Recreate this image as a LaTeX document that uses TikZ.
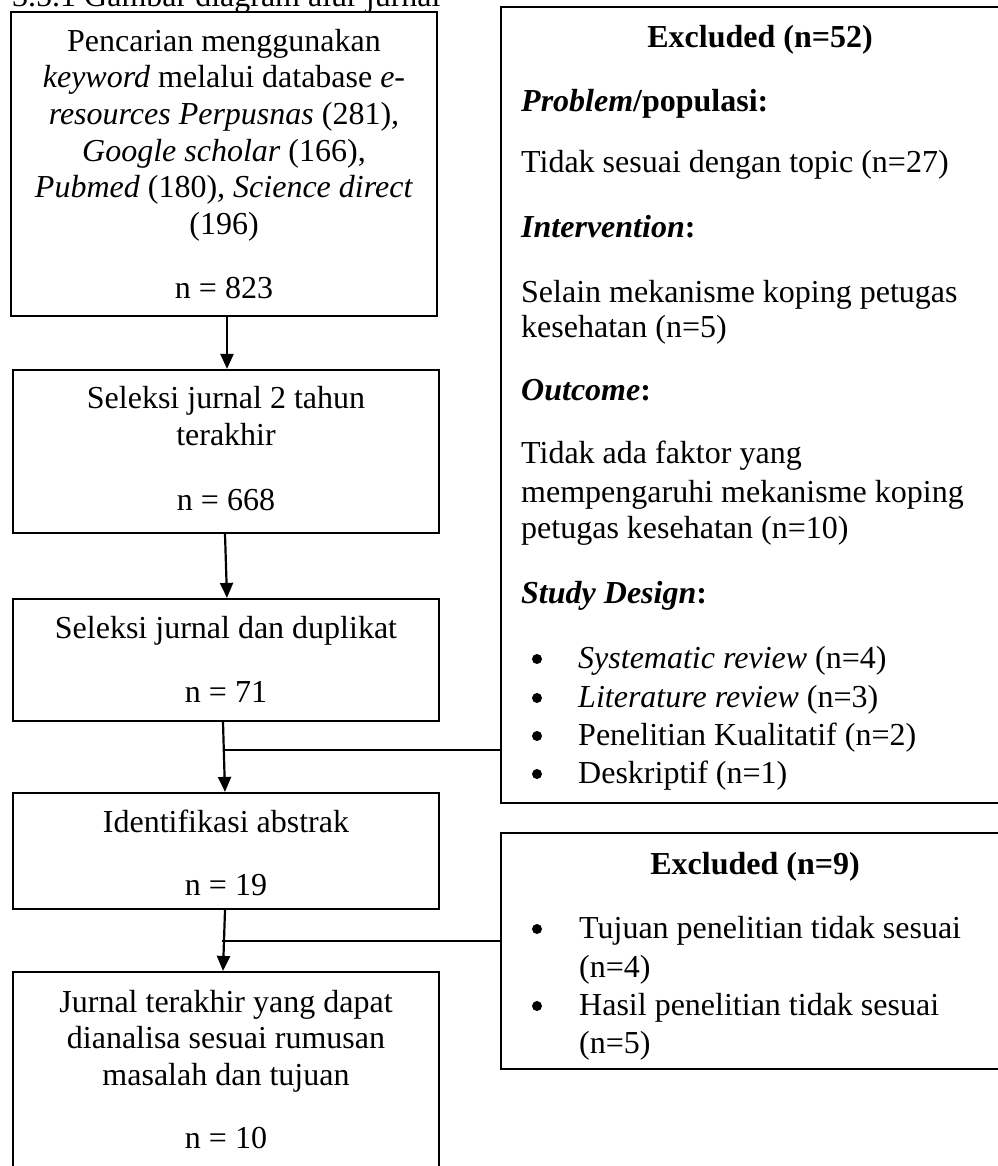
\documentclass[tikz,border=0pt]{standalone}
\usepackage{fontspec}
\setmainfont{Liberation Serif}
\usetikzlibrary{arrows.meta,calc}
\begin{document}
\begin{tikzpicture}[x=1pt,y=-1pt,
  box/.style={draw,line width=2.2pt,rectangle,inner sep=0pt},
  txt/.style={inner sep=0pt,font=\fontsize{32}{36.7}\selectfont},
  ctxt/.style={txt,anchor=base},
  ltxt/.style={txt,anchor=base west},
  bul/.style={circle,fill,inner sep=0pt,minimum size=10pt},
  flow/.style={line width=2.2pt,-{Triangle[length=15pt,width=13pt]}},
  link/.style={line width=2.2pt}]
\useasboundingbox (0,0) rectangle (997,1166);
\fill[white] (0,0) rectangle (997,1166);
% title (top cut off as in the reference)
\node[ltxt] (title) at (12,7) {3.5.1 Gambar diagram alur jurnal};
% left boxes
\node[box,minimum width=426pt,minimum height=304pt] (b1) at (224,164) {};
\node[box,minimum width=426pt,minimum height=163pt] (b2) at (226,451.5) {};
\node[box,minimum width=426pt,minimum height=122pt] (b3) at (226,660) {};
\node[box,minimum width=426pt,minimum height=116pt] (b4) at (226,851) {};
\node[box,minimum width=426pt,minimum height=228pt] (b5) at (226,1086) {};
% right boxes
\node[box,minimum width=518pt,minimum height=796pt] (ex1) at (760,405) {};
\node[box,minimum width=518pt,minimum height=236pt] (ex2) at (760,951) {};
% box 1 text
\node[ctxt] (t1a) at (224,52) {Pencarian menggunakan};
\node[ctxt] (t1b) at (224,88) {\textit{keyword} melalui database \textit{e-}};
\node[ctxt] (t1c) at (224,125) {\textit{resources Perpusnas} (281)\textit{,}};
\node[ctxt] (t1d) at (224,162) {\textit{Google scholar} (166),};
\node[ctxt] (t1e) at (224,198) {\textit{Pubmed} (180)\textit{, Science direct}};
\node[ctxt] (t1f) at (224,235) {(196)};
\node[ctxt] (t1n) at (224,298) {n = 823};
% box 2 text
\node[ctxt] (t2a) at (226,408) {Seleksi jurnal 2 tahun};
\node[ctxt] (t2b) at (226,445) {terakhir};
\node[ctxt] (t2n) at (226,510) {n = 668};
% box 3 text
\node[ctxt] (t3a) at (226,638) {Seleksi jurnal dan duplikat};
\node[ctxt] (t3n) at (226,702) {n = 71};
% box 4 text
\node[ctxt] (t4a) at (226,832) {Identifikasi abstrak};
\node[ctxt] (t4n) at (226,895) {n = 19};
% box 5 text
\node[ctxt] (t5a) at (226,1012) {Jurnal terakhir yang dapat};
\node[ctxt] (t5b) at (226,1048) {dianalisa sesuai rumusan};
\node[ctxt] (t5c) at (226,1085) {masalah dan tujuan};
\node[ctxt] (t5n) at (226,1148) {n = 10};
% excluded 52 text
\node[ctxt] (e1h) at (760,48) {\textbf{Excluded (n=52)}};
\node[ltxt] (e1p) at (521,112) {\textbf{\textit{Problem}/populasi:}};
\node[ltxt] (e1pt) at (521,173) {Tidak sesuai dengan topic (n=27)};
\node[ltxt] (e1i) at (521,237) {\textbf{\textit{Intervention}:}};
\node[ltxt] (e1ia) at (521,302) {Selain mekanisme koping petugas};
\node[ltxt] (e1ib) at (521,337) {kesehatan (n=5)};
\node[ltxt] (e1o) at (521,400) {\textbf{\textit{Outcome}:}};
\node[ltxt] (e1oa) at (521,463) {Tidak ada faktor yang};
\node[ltxt] (e1ob) at (521,502) {mempengaruhi mekanisme koping};
\node[ltxt] (e1oc) at (521,538) {petugas kesehatan (n=10)};
\node[ltxt] (e1s) at (521,603) {\textbf{\textit{Study Design}:}};
\node[bul] (e1b1) at (537,659) {};
\node[ltxt] (e1s1) at (578,668) {\textit{Systematic review} (n=4)};
\node[bul] (e1b2) at (537,698) {};
\node[ltxt] (e1s2) at (578,707) {\textit{Literature review} (n=3)};
\node[bul] (e1b3) at (537,736) {};
\node[ltxt] (e1s3) at (578,745) {Penelitian Kualitatif (n=2)};
\node[bul] (e1b4) at (537,774) {};
\node[ltxt] (e1s4) at (578,783) {Deskriptif (n=1)};
% excluded 9 text
\node[ctxt] (e2h) at (755,874) {\textbf{Excluded (n=9)}};
\node[bul] (e2b1) at (537,929) {};
\node[ltxt] (e2s1a) at (579,938) {Tujuan penelitian tidak sesuai};
\node[ltxt] (e2s1b) at (579,977) {(n=4)};
\node[bul] (e2b2) at (537,1006) {};
\node[ltxt] (e2s2a) at (579,1015) {Hasil penelitian tidak sesuai};
\node[ltxt] (e2s2b) at (579,1053) {(n=5)};
% arrows
\draw[flow] ([xshift=3pt]b1.south) -- ([xshift=1pt]b2.north);
\draw[flow] ([xshift=-1pt]b2.south) -- ([xshift=1pt]b3.north);
\draw[flow] ([xshift=-3pt]b3.south) -- ([xshift=-1pt]b4.north);
\draw[flow] ([xshift=-1pt]b4.south) -- ([xshift=-3pt]b5.north);
% side links
\coordinate (j1) at (224,750);
\coordinate (j2) at (222,941);
\draw[link] (j1) -- (j1 -| ex1.west);
\draw[link] (j2) -- (j2 -| ex2.west);
\end{tikzpicture}
\end{document}
